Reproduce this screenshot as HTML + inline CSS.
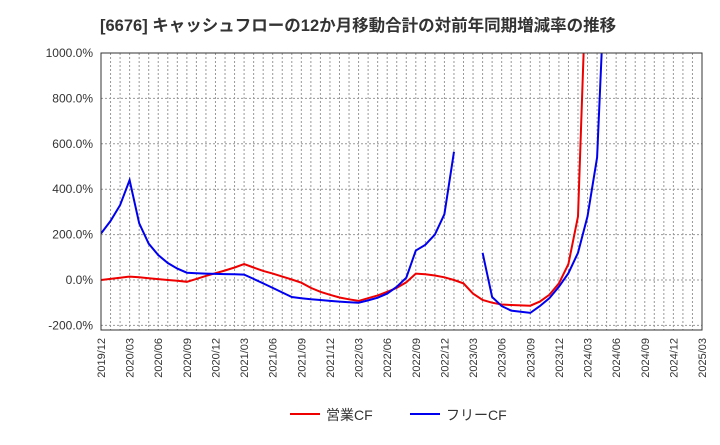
<!DOCTYPE html>
<html><head><meta charset="utf-8"><style>
body{margin:0;background:#fff;font-family:"Liberation Sans","Noto Sans CJK JP",sans-serif;}
</style></head><body>
<svg id="c" width="720" height="440" xmlns="http://www.w3.org/2000/svg">
<text x="100" y="31" font-size="16.5" font-weight="bold" fill="#333" font-family="Liberation Sans,Noto Sans CJK JP,sans-serif">[6676]  キャッシュフローの12か月移動合計の対前年同期増減率の推移</text>
<defs><clipPath id="pc"><rect x="101" y="53" width="601" height="277"/></clipPath></defs>
<g id="grid"></g><g id="axes"></g><g id="series" clip-path="url(#pc)"></g>
<rect x="101" y="53" width="601" height="277" fill="none" stroke="#333" stroke-width="1"/>
<g>
<line x1="290" y1="414" x2="320" y2="414" stroke="#e00" stroke-width="2"/>
<text x="326" y="420" font-size="14" fill="#333">営業CF</text>
<line x1="410" y1="414" x2="440" y2="414" stroke="#00e" stroke-width="2"/>
<text x="446" y="420" font-size="14" fill="#333">フリーCF</text>
</g>
</svg>
<script>
const yTicks=[1000,800,600,400,200,0,-200];
const xLabels=["2019/12","2020/03","2020/06","2020/09","2020/12","2021/03","2021/06","2021/09","2021/12","2022/03","2022/06","2022/09","2022/12","2023/03","2023/06","2023/09","2023/12","2024/03","2024/06","2024/09","2024/12","2025/03"];
const operatingCF=[0,5,10,15,12,8,4,0,-3,-8,5,18,30,42,55,70,55,40,28,15,2,-12,-35,-52,-65,-77,-85,-92,-80,-68,-52,-35,-10,28,25,20,12,0,-15,-60,-88,-100,-108,-110,-112,-113,-95,-65,-15,70,280,1500];
const freeCF=[205,260,330,440,250,160,110,75,50,32,30,28,27,26,25,24,5,-15,-35,-55,-75,-80,-85,-88,-92,-95,-98,-100,-90,-78,-60,-30,10,130,155,200,290,565,null,null,120,-75,-115,-135,-140,-145,-115,-80,-30,30,120,280,540,1500];
const NS="http://www.w3.org/2000/svg";
const L=101,R=702,T=53,months=63;
const xs=i=>L+(R-L)*i/months;
const ys=v=>280-v*(280-53)/1000;
function mk(t,a,p){const e=document.createElementNS(NS,t);for(const k in a)e.setAttribute(k,a[k]);p.appendChild(e);return e;}
const g=document.getElementById('grid'),ax=document.getElementById('axes'),s=document.getElementById('series');
for(let m=1;m<months;m++){const l=mk('line',{x1:xs(m),x2:xs(m),y1:T,y2:330,stroke:'#999','stroke-dasharray':'2,2','stroke-width':1},g);

}
yTicks.forEach(v=>{const y=ys(v);
const l=mk('line',{x1:L,x2:R,y1:y,y2:y,stroke:'#999','stroke-dasharray':'2,2','stroke-width':1},g);


const t=mk('text',{x:93,y:y+4,'text-anchor':'end','font-size':12,fill:'#333'},ax);t.textContent=v.toFixed(1)+'%';

});
xLabels.forEach((lb,i)=>{const x=xs(i*3);
const t=mk('text',{x:x+4,y:338,'text-anchor':'end','font-size':11,fill:'#333',transform:`rotate(-90 ${x+4} 338)`},ax);t.textContent=lb;

});
function draw(arr,col,name){let d='',pen=false;arr.forEach((v,i)=>{if(v===null){pen=false;return;}d+=(pen?'L':'M')+xs(i).toFixed(1)+','+ys(v).toFixed(1);pen=true;});
const p=mk('path',{d:d,fill:'none',stroke:col,'stroke-width':2},s);

}
draw(operatingCF,'#e00','operating-cf-line');
draw(freeCF,'#00e','free-cf-line');
</script>
</body></html>
